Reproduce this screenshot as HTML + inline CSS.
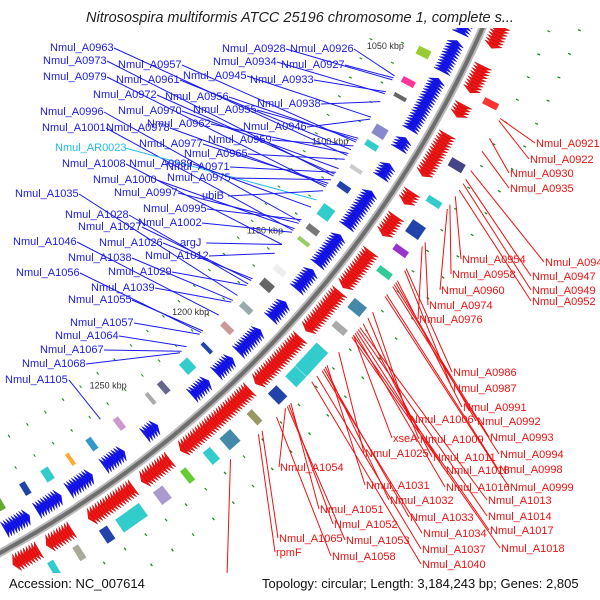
<!DOCTYPE html>
<html><head><meta charset="utf-8">
<style>
html,body{margin:0;padding:0;background:#fff;overflow:hidden;}
svg{display:block;font-family:"Liberation Sans",sans-serif;}
</style></head>
<body>
<svg id="map" width="600" height="600" viewBox="0 0 600 600" xmlns="http://www.w3.org/2000/svg">
<g id="features"></g>
<g id="lines"></g>
<g id="labels"></g>
<rect x="0" y="0" width="600" height="28" fill="#fff"/>
<text x="300" y="22" text-anchor="middle" font-size="14.5" font-style="italic" fill="#222">Nitrosospira multiformis ATCC 25196 chromosome 1, complete s...</text>
<rect x="0" y="573" width="600" height="27" fill="#fff"/>
<text x="9" y="588" font-size="13" fill="#111">Accession: NC_007614</text>
<text x="262" y="588" font-size="13" fill="#111">Topology: circular; Length: 3,184,243 bp; Genes: 2,805</text>
</svg>
<script>
const blueClusters = [[1012,1030],[1034,1048],[1052,1076],[1081,1086],[1094,1100],[1108,1126],[1131,1146],[1150,1160],[1168,1176],[1184,1196],[1201,1210],[1215,1223],[1244,1250],[1262,1272],[1279,1290],[1295,1306],[1311,1322]];
const redClusters = [[1012,1030],[1039,1050],[1057,1062],[1071,1090],[1099,1104],[1111,1119],[1129,1146],[1150,1170],[1175,1200],[1205,1242],[1249,1262],[1268,1290],[1299,1310],[1315,1326]];
const boxKbp = [1020,1028,1043,1058,1066,1082,1090,1103,1112,1124,1135,1142,1158,1166,1180,1192,1205,1215,1230,1238,1255,1270,1282,1293,1305,1318,1050,1078,1096,1108,1120,1131,1148,1160,1172,1185,1196,1210,1222,1233,1246,1258,1270,1286,1300,1312];
const boxColor = ['#3a3','#555','#9c3','#f39','#666','#88c','#3cc','#ccc','#24a','#3cc','#777','#9c6','#eee','#666','#9aa','#c99','#24a','#3cc','#668','#aaa','#c9c','#39c','#fa3','#3cc','#24a','#6a3','#f33','#448','#3cc','#24a','#93c','#3c9','#48a','#aaa','#3cc','#3cc','#24a','#996','#48a','#3cc','#6c3','#a9c','#3cc','#24a','#aa9','#3cc'];
const boxSide = [-1,-1,-1,-1,-1,-1,-1,-1,-1,-1,-1,-1,-1,-1,-1,-1,-1,-1,-1,-1,-1,-1,-1,-1,-1,-1,1,1,1,1,1,1,1,1,1,1,1,1,1,1,1,1,1,1,1,1];
const boxLen = [3,2,4,3,2,5,3,2,3,6,3,2,3,4,3,3,2,5,3,2,3,3,2,4,3,3,3,4,3,6,3,3,5,3,14,6,5,3,6,4,3,5,12,4,3,3];
const tickKbp = [1050,1100,1150,1200,1250];
const tickText = ['1050 kbp','1100 kbp','1150 kbp','1200 kbp','1250 kbp'];
const blueNames = ['Nmul_A0963','Nmul_A0957','Nmul_A0973','Nmul_A0928','Nmul_A0926','Nmul_A0934','Nmul_A0927','Nmul_A0979','Nmul_A0961','Nmul_A0945','Nmul_A0933','Nmul_A0972','Nmul_A0956','Nmul_A0938','Nmul_A0996','Nmul_A0970','Nmul_A0955','Nmul_A1001','Nmul_A0978','Nmul_A0962','Nmul_A0946','Nmul_A0959','Nmul_AR0023','Nmul_A0977','Nmul_A0965','Nmul_A1008','Nmul_A0989','Nmul_A0971','Nmul_A1000','Nmul_A0975','Nmul_A0997','Nmul_A1035','ubiB','Nmul_A0995','Nmul_A1028','Nmul_A1002','Nmul_A1027','Nmul_A1046','Nmul_A1026','argJ','Nmul_A1038','Nmul_A1012','Nmul_A1056','Nmul_A1029','Nmul_A1039','Nmul_A1055','Nmul_A1057','Nmul_A1064','Nmul_A1067','Nmul_A1068','Nmul_A1105'];
const blueX = [50,118,43,222,290,213,281,43,116,183,250,93,165,257,40,118,193,42,106,147,243,208,55,139,184,62,129,166,93,167,114,15,202,143,65,138,78,13,99,180,68,145,16,108,91,68,70,55,40,22,5];
const blueY = [51,68,64,52,52,65,68,80,83,79,83,98,100,107,115,114,113,131,131,127,130,143,151,147,157,167,167,170,183,181,196,197,199,212,218,226,230,245,246,246,261,259,276,275,291,303,326,339,353,367,383];
const blueKbp = [1101,1094,1112,1062,1060,1069,1061,1118,1098,1081,1068,1111,1093,1073,1137,1108,1092,1142,1117,1100,1082,1096,1125,1116,1103,1150,1129,1110,1141,1114,1138,1180,1120,1136,1173,1143,1171,1192,1170,1150,1183,1155,1203,1174,1184,1202,1204,1212,1215,1216,1262];
const redNames = ['Nmul_A0921','Nmul_A0922','Nmul_A0930','Nmul_A0935','Nmul_A0954','Nmul_A0943','Nmul_A0958','Nmul_A0947','Nmul_A0949','Nmul_A0960','Nmul_A0952','Nmul_A0974','Nmul_A0976','Nmul_A0986','Nmul_A0987','Nmul_A0991','Nmul_A1006','Nmul_A0992','Nmul_A1009','Nmul_A0993','Nmul_A1011','Nmul_A0994','Nmul_A1025','xseA','Nmul_A1054','Nmul_A1015','Nmul_A0998','Nmul_A1031','Nmul_A1016','Nmul_A0999','Nmul_A1032','Nmul_A1013','Nmul_A1051','Nmul_A1033','Nmul_A1014','Nmul_A1052','Nmul_A1034','Nmul_A1017','Nmul_A1065','Nmul_A1053','Nmul_A1037','Nmul_A1018','rpmF','Nmul_A1058','Nmul_A1040','secG'];
const redX = [536,530,510,510,462,545,452,532,532,441,532,429,419,453,453,463,410,477,420,490,433,500,365,393,280,446,499,366,446,510,390,488,320,410,488,334,423,490,279,346,422,501,276,332,422,228];
const redY = [147,163,177,192,263,266,278,280,294,294,305,309,323,376,392,411,423,425,443,441,461,458,457,442,471,474,473,489,491,491,504,504,513,521,520,528,537,534,542,544,553,552,556,560,568,581];
const redKbp = [1055,1056,1064,1070,1091,1079,1095,1083,1085,1097,1088,1113,1115,1126,1127,1132,1148,1133,1151,1134,1154,1135,1169,1160,1200,1158,1139,1176,1159,1140,1177,1156,1197,1178,1157,1198,1179,1160,1213,1199,1182,1161,1215,1205,1185,1230];

const CX=-535, CY=-423, R=1113;
function ang(k){return (27.0+(k-1050)*0.1225)*Math.PI/180;}
function pt(k,r){const a=ang(k);return [CX+r*Math.cos(a), CY+r*Math.sin(a)];}
const NS='http://www.w3.org/2000/svg';
function mk(tag,attrs,parent){const e=document.createElementNS(NS,tag);for(const k in attrs)e.setAttribute(k,attrs[k]);parent.appendChild(e);return e;}
const F=document.getElementById('features'), L=document.getElementById('lines'), T=document.getElementById('labels');
function ps(a){return a.map(p=>p[0].toFixed(1)+','+p[1].toFixed(1)).join(' ');}

let bb=[];for(let k=1000;k<=1340;k+=2)bb.push(pt(k,R));
let b1=mk('polyline',{points:ps(bb),fill:'none',stroke:'#bbb','stroke-width':8},F);


let b2=mk('polyline',{points:ps(bb),fill:'none',stroke:'#6e6e6e','stroke-width':4},F);



for(let k=1005;k<=1330;k+=10){
  [[R-66],[R-96],[R+62],[R+90]].forEach((rr,i)=>{
    const kk=k+(i%2)*5;
    const d=mk('polyline',{points:ps([pt(kk,rr[0]),pt(kk+0.5,rr[0])]),stroke:'#1a8a1a','stroke-width':3,fill:'none'},F);
    
    
  });
}
blueClusters.forEach(c=>{
  for(let k=c[0];k<=c[1];k+=1.3){
    const p=mk('polygon',{points:ps([pt(k+1.8,R-27),pt(k+1.8,R-9),pt(k,R-18)]),fill:'#1515ee',stroke:'#0000aa','stroke-width':0.4},F);
    
    
  }
});
redClusters.forEach(c=>{
  for(let k=c[0];k<=c[1];k+=1.3){
    const p=mk('polygon',{points:ps([pt(k,R+7),pt(k,R+26),pt(k+2,R+16.5)]),fill:'#ee1515',stroke:'#aa0000','stroke-width':0.4},F);
    
    
  }
});
boxKbp.forEach((k,i)=>{
  const s=boxSide[i];const r1=s<0?R-50:R+32, r2=s<0?R-36:R+48;
  const p=mk('polygon',{points:ps([pt(k,r1),pt(k+boxLen[i],r1),pt(k+boxLen[i],r2),pt(k,r2)]),fill:boxColor[i],stroke:'#fff','stroke-width':0.5},F);
  
  
});
tickKbp.forEach((k,i)=>{
  const p=pt(k,R-80);
  const t=mk('text',{x:p[0].toFixed(1),y:(p[1]+3).toFixed(1),'text-anchor':'middle','font-size':9,fill:'#333'},F);
  t.textContent=tickText[i];
  
  
});
blueNames.forEach((n,i)=>{
  const w=n.length*6.3;
  const col=n.indexOf('AR')>=0?'#22bbee':'#1a1aee';
  const t=mk('text',{x:blueX[i],y:blueY[i],'font-size':11,fill:col},T);
  t.textContent=n;
  
  
  const e=pt(blueKbp[i],R-58);
  const l=mk('line',{x1:blueX[i]+w+1,y1:blueY[i]-3,x2:e[0].toFixed(1),y2:e[1].toFixed(1),stroke:col,'stroke-width':1},L);
  
  
});
redNames.forEach((n,i)=>{
  const t=mk('text',{x:redX[i],y:redY[i],'font-size':11,fill:'#ee1111'},T);
  t.textContent=n;
  
  
  const e=pt(redKbp[i],R+55);
  const l=mk('line',{x1:redX[i]-1,y1:redY[i]-4,x2:e[0].toFixed(1),y2:e[1].toFixed(1),stroke:'#ee1111','stroke-width':1},L);
  
  
});
</script>
</body></html>
